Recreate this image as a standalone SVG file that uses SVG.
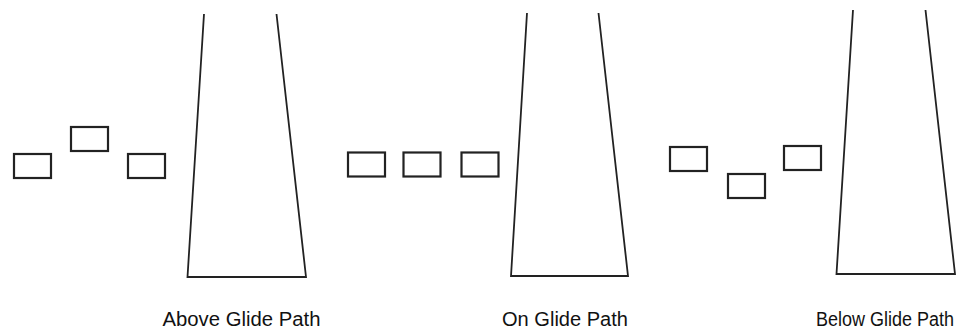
<svg xmlns="http://www.w3.org/2000/svg" width="969" height="332" viewBox="0 0 969 332">
<style>
.ac{fill:none;stroke:#222;stroke-width:2.2}
.rw{fill:none;stroke:#222;stroke-width:1.8;stroke-linejoin:miter}
.lbl{font-family:"Liberation Sans",Arial,sans-serif;font-size:20px;fill:#111;text-anchor:middle}
</style>
<rect width="969" height="332" fill="#fff"/>
<g id="above">
  <g id="above-aircraft">
    <rect class="ac" x="14" y="154" width="37" height="24"/>
    <rect class="ac" x="71" y="127" width="37" height="24"/>
    <rect class="ac" x="128" y="154" width="37" height="24"/>
  </g>
  <path id="above-runway" class="rw" d="M204,14 L187.5,277 L306,277 L276.5,14"/>
  <text id="above-label" class="lbl" x="241.5" y="326" textLength="158" lengthAdjust="spacingAndGlyphs">Above Glide Path</text>
</g>
<g id="on">
  <g id="on-aircraft">
    <rect class="ac" x="348" y="152.5" width="37" height="24"/>
    <rect class="ac" x="403.5" y="152.5" width="37" height="24"/>
    <rect class="ac" x="461.5" y="152.5" width="37" height="24"/>
  </g>
  <path id="on-runway" class="rw" d="M527,13 L511,276 L628,276 L598.5,13"/>
  <text id="on-label" class="lbl" x="565" y="326" textLength="126" lengthAdjust="spacingAndGlyphs">On Glide Path</text>
</g>
<g id="below">
  <g id="below-aircraft">
    <rect class="ac" x="670" y="147" width="37" height="24"/>
    <rect class="ac" x="728" y="174" width="37" height="24"/>
    <rect class="ac" x="784" y="146" width="37" height="24"/>
  </g>
  <path id="below-runway" class="rw" d="M853,10 L836.5,274 L955,274 L925.5,10"/>
  <text id="below-label" class="lbl" x="885" y="326" textLength="138" lengthAdjust="spacingAndGlyphs">Below Glide Path</text>
</g>
<g id="connectors"/>
</svg>
